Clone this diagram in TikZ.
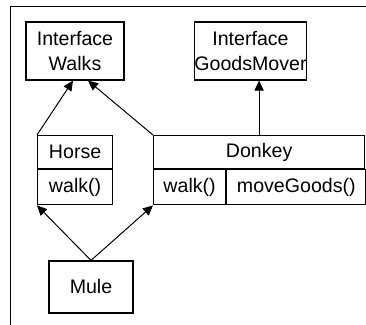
\documentclass[tikz,border=0pt]{standalone}
\usepackage{fontspec}
\setmainfont{Liberation Sans}
\usetikzlibrary{arrows.meta,positioning}
\begin{document}
\begin{tikzpicture}[
  x=0.5pt, y=-0.5pt,
  box/.style={draw, line width=0.6pt, align=center, inner sep=0pt, font=\fontsize{9.8}{12.5}\selectfont},
  cls/.style={box, minimum height=16.5pt},
  meth/.style={box, minimum height=17.5pt},
  arr/.style={-{Triangle[length=5pt,width=4.6pt]}, line width=0.5pt}
]
  \useasboundingbox (0,0) rectangle (366,325);
  \draw[line width=0.5pt] (11,325) -- (11,7) -- (366,7);

  \node[box, minimum width=49pt, minimum height=29pt] (walks) at (75,51) {Interface\\Walks};
  \node[box, minimum width=55.5pt, minimum height=29pt] (mover) at (250.5,51) {Interface\\GoodsMover};

  \node[cls, minimum width=37.5pt, anchor=north west] (horse) at (37,135) {Horse};
  \node[meth, minimum width=37.5pt, below=0pt of horse] (hwalk) {walk()};

  \node[cls, minimum width=105.5pt, anchor=north west] (donkey) at (153,135) {Donkey};
  \node[meth, minimum width=36pt, anchor=north west] (dwalk) at (donkey.south west) {walk()};
  \node[meth, minimum width=69.5pt, right=0pt of dwalk] (dgoods) {moveGoods()};

  \node[box, minimum width=42pt, minimum height=26pt] (mule) at (91,287) {Mule};

  \draw[arr] (horse.north west) -- ([xshift=-1pt]walks.south);
  \draw[arr] (donkey.north west) -- ([xshift=6.5pt]walks.south);
  \draw[arr] (donkey.north) -- (donkey.north |- mover.south);
  \draw[arr] (mule.north) -- (hwalk.south west);
  \draw[arr] (mule.north) -- (dwalk.south west);
\end{tikzpicture}
\end{document}
